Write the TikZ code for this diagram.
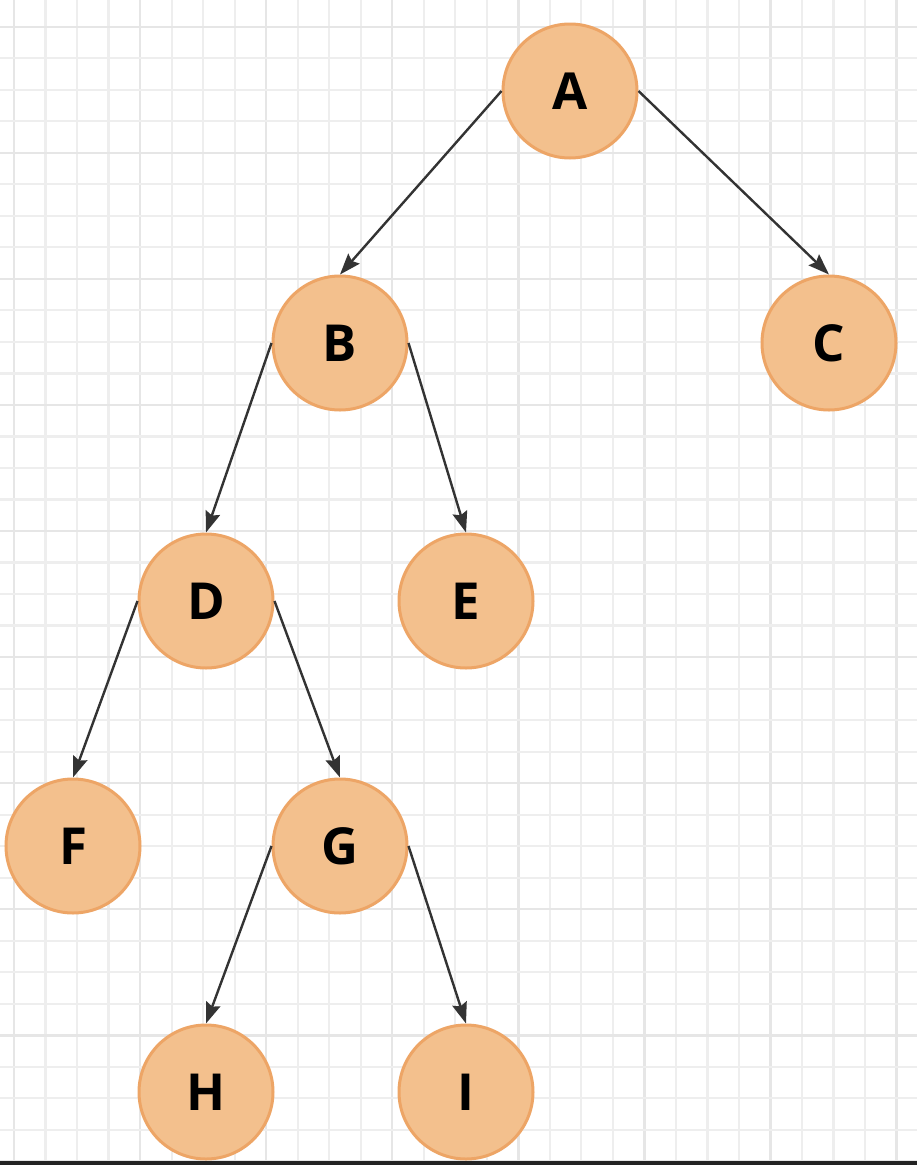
\documentclass[tikz,border=0pt]{standalone}
\usepackage{fontspec}
\setmainfont{Open Sans}
\usetikzlibrary{arrows.meta}
\definecolor{nodefill}{HTML}{F3C08D}
\definecolor{nodeline}{HTML}{EDA566}
\definecolor{edgecol}{HTML}{333333}
\definecolor{gridminor}{HTML}{EEEEEE}
\definecolor{gridmajor}{HTML}{E6E6E6}
\definecolor{bottombar}{HTML}{232323}
\tikzset{
  treenode/.style={circle, draw=nodeline, line width=3pt, fill=nodefill,
    minimum size=134pt, inner sep=0pt,
    font=\fontsize{51}{60}\selectfont\bfseries, text=black},
  edge/.style={draw=edgecol, line width=2.4pt,
    -{Stealth[length=21pt,width=15pt,inset=3pt]}}
}
\begin{document}
\begin{tikzpicture}[x=1pt,y=-1pt]
\useasboundingbox (0,0) rectangle (917,1165);
\fill[white] (0,0) rectangle (917,1165);
% grid
\foreach \i in {0,...,29} {
  \pgfmathsetmacro{\xx}{14+31.52*\i}
  \pgfmathtruncatemacro{\m}{mod(\i,4)}
  \ifnum\m=0
    \draw[gridmajor, line width=2.4pt] (\xx,0) -- (\xx,1165);
  \else
    \draw[gridminor, line width=2.2pt] (\xx,0) -- (\xx,1165);
  \fi
}
\foreach \j in {0,...,36} {
  \pgfmathsetmacro{\yy}{26.7+31.52*\j}
  \pgfmathtruncatemacro{\m}{mod(\j,4)}
  \ifnum\m=0
    \draw[gridmajor, line width=2.4pt] (0,\yy) -- (917,\yy);
  \else
    \draw[gridminor, line width=2.2pt] (0,\yy) -- (917,\yy);
  \fi
}
% nodes
\node[treenode] (A) at (570,91) {A};
\node[treenode] (B) at (340,343) {B};
\node[treenode] (C) at (829,343) {C};
\node[treenode] (D) at (206,601) {D};
\node[treenode] (E) at (466,601) {E};
\node[treenode] (F) at (73,846) {F};
\node[treenode] (G) at (340,846) {G};
\node[treenode] (H) at (206,1092) {H};
\node[treenode] (I) at (466,1092) {I};
% edges
\draw[edge] (A.west) -- (B.north);
\draw[edge] (A.east) -- (C.north);
\draw[edge] (B.west) -- (D.north);
\draw[edge] (B.east) -- (E.north);
\draw[edge] (D.west) -- (F.north);
\draw[edge] (D.east) -- (G.north);
\draw[edge] (G.west) -- (H.north);
\draw[edge] (G.east) -- (I.north);
% bottom bar
\fill[bottombar] (0,1161) rectangle (917,1165);
\end{tikzpicture}
\end{document}
